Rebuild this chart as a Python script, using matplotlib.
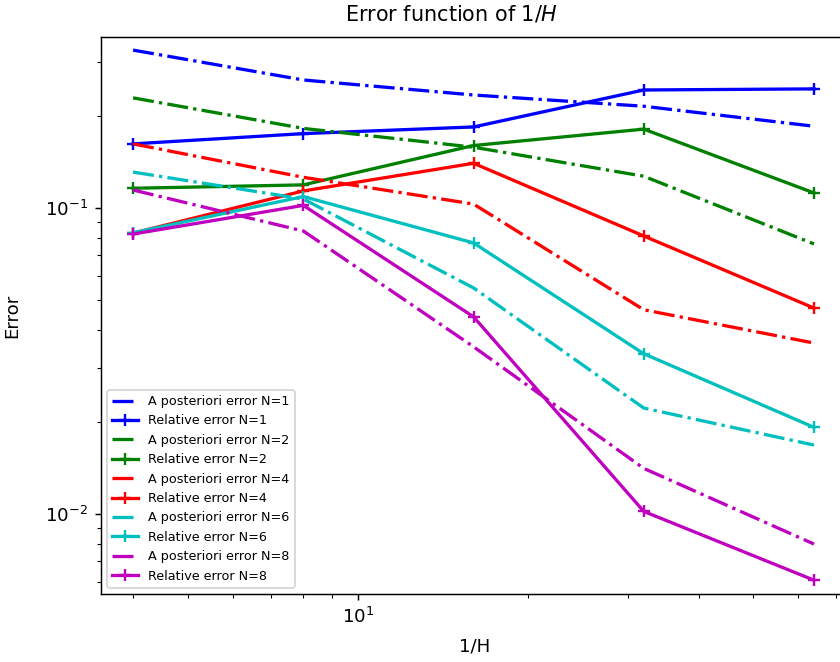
import matplotlib
matplotlib.use("Agg")
import matplotlib.pyplot as plt

# 1/H values
inv_h = [4, 8, 16, 32, 64]
orders = [1, 2, 4, 6, 8]
colors = ['b', 'g', 'r', 'c', 'm']

# a posteriori error estimates, one list per N
post_n1 = [0.328, 0.262, 0.234, 0.215, 0.185]
post_n2 = [0.229, 0.182, 0.158, 0.127, 0.0763]
post_n4 = [0.162, 0.126, 0.103, 0.0465, 0.0362]
post_n6 = [0.131, 0.107, 0.0548, 0.0222, 0.0168]
post_n8 = [0.1145, 0.0841, 0.0352, 0.0141, 0.00798]

# relative errors, one list per N
rel_n1 = [0.162, 0.175, 0.184, 0.243, 0.245]
rel_n2 = [0.116, 0.119, 0.160, 0.181, 0.112]
rel_n4 = [0.0828, 0.1137, 0.140, 0.081, 0.0471]
rel_n6 = [0.0830, 0.109, 0.0769, 0.0334, 0.0192]
rel_n8 = [0.0822, 0.102, 0.0441, 0.0102, 0.00608]

post = [post_n1, post_n2, post_n4, post_n6, post_n8]
rel = [rel_n1, rel_n2, rel_n4, rel_n6, rel_n8]

fig = plt.figure(figsize=(6.4, 662 / 131.25), dpi=131.25)
# axes run a bit past the right edge of the picture, as in the original crop
ax = fig.add_axes([101 / 840, 68 / 662, 748 / 840, 557 / 662])

for n, c, p, r in zip(orders, colors, post, rel):
    ax.loglog(inv_h, p, c + '-.', linewidth=1.8, label='A posteriori error N=%d' % n)
    ax.loglog(inv_h, r, c + '-', marker='+', markersize=7, markeredgewidth=1.3,
              linewidth=1.8, label='Relative error N=%d' % n)

ax.set_xlim(3.51, 73.8)
ax.set_ylim(0.00548, 0.362)
ax.set_title(r'Error function of $1/H$', fontsize=11.4, pad=9)
ax.title.set_x(0.468)
ax.set_xlabel('1/H', labelpad=6)
ax.set_ylabel('Error', labelpad=13)
ax.legend(loc='lower left', fontsize=7)

fig.savefig('out.png', dpi=131.25)
